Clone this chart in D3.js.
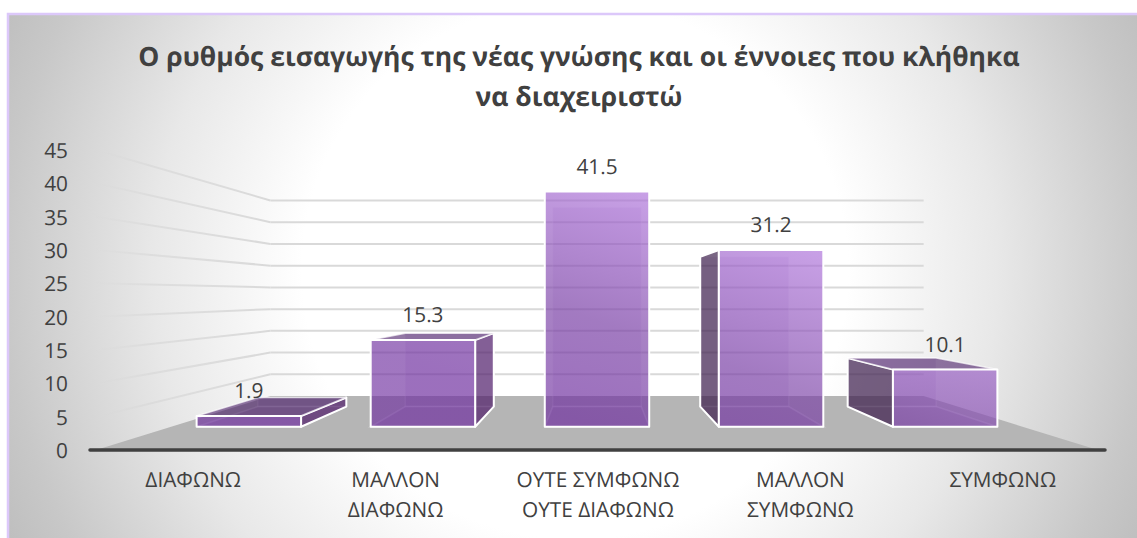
<!DOCTYPE html>
<html>
<head>
<meta charset="utf-8">
<script src="https://cdnjs.cloudflare.com/ajax/libs/d3/7.8.5/d3.min.js"></script>
<style>
  html, body { margin: 0; padding: 0; background: #fff; overflow: hidden; }
  text { font-family: "Open Sans", sans-serif; fill: #404040; text-rendering: geometricPrecision; }
</style>
</head>
<body>
<div id="chart"></div>
<script>
const titleLines = ['Ο ρυθμός εισαγωγής της νέας γνώσης και οι έννοιες που κλήθηκα', 'να διαχειριστώ'];
const categories = ['ΔΙΑΦΩΝΩ', 'ΜΑΛΛΟΝ ΔΙΑΦΩΝΩ', 'ΟΥΤΕ ΣΥΜΦΩΝΩ ΟΥΤΕ ΔΙΑΦΩΝΩ', 'ΜΑΛΛΟΝ ΣΥΜΦΩΝΩ', 'ΣΥΜΦΩΝΩ'];
const categoryLines = [['ΔΙΑΦΩΝΩ'], ['ΜΑΛΛΟΝ', 'ΔΙΑΦΩΝΩ'], ['ΟΥΤΕ ΣΥΜΦΩΝΩ', 'ΟΥΤΕ ΔΙΑΦΩΝΩ'], ['ΜΑΛΛΟΝ', 'ΣΥΜΦΩΝΩ'], ['ΣΥΜΦΩΝΩ']];
const values = [1.9, 15.3, 41.5, 31.2, 10.1];
const yTicks = [0, 5, 10, 15, 20, 25, 30, 35, 40, 45];

const width = 1137;
const height = 538;

// the chart is a perspective view, everything is scaled toward this point
const vanish = {x: 597, y: 295};
const depth = {front: 1, barFront: 0.85, barBack: 0.72, wall: 0.652};
const wallLeft = 96;
const wallRight = 1098;

const y = d3.scaleLinear().domain([0, 45]).range([450, 150]);
const x = d3.scaleBand().domain(categories).range([85, 1109]).paddingInner(0.4).paddingOuter(0.2);
const xLabels = d3.scaleBand().domain(categories).range([92, 1104]);

const project = (wx, v, k) => [vanish.x + k * (wx - vanish.x), vanish.y + k * (y(v) - vanish.y)];

const svg = d3.select('#chart').append('svg')
  .attr('width', width)
  .attr('height', height)
  .style('display', 'block');

const defs = svg.append('defs');

const bg = defs.append('radialGradient')
  .attr('id', 'bg')
  .attr('gradientUnits', 'userSpaceOnUse')
  .attr('cx', 0).attr('cy', 0).attr('r', 1)
  .attr('gradientTransform', 'translate(575 270) scale(650 640)');
bg.selectAll('stop')
  .data([[0, '#ffffff'], [0.42, '#ffffff'], [0.65, '#e8e8e8'], [0.88, '#c8c8c8'], [1, '#bbbbbb']])
  .join('stop')
  .attr('offset', d => d[0])
  .attr('stop-color', d => d[1]);

const fade = defs.append('linearGradient')
  .attr('id', 'fade')
  .attr('gradientUnits', 'userSpaceOnUse')
  .attr('x1', 85).attr('y1', 0).attr('x2', 270).attr('y2', 0);
fade.append('stop').attr('offset', 0).attr('stop-color', '#d9d9d9').attr('stop-opacity', 0);
fade.append('stop').attr('offset', 0.35).attr('stop-color', '#d6d6d6').attr('stop-opacity', 0.6);
fade.append('stop').attr('offset', 1).attr('stop-color', '#d9d9d9');

const face = defs.append('linearGradient')
  .attr('id', 'face')
  .attr('gradientUnits', 'userSpaceOnUse')
  .attr('x1', 600).attr('y1', 427).attr('x2', 680).attr('y2', 191);
face.selectAll('stop')
  .data([[0, '#7030a0'], [0.4, '#7a40a6'], [1, '#b073de']])
  .join('stop')
  .attr('offset', d => d[0])
  .attr('stop-color', d => d[1]);

svg.append('rect')
  .attr('x', 8).attr('y', 14)
  .attr('width', width - 8).attr('height', height - 14)
  .attr('fill', 'url(#bg)');
svg.append('path')
  .attr('d', `M8,${height}V14H${width}`)
  .attr('fill', 'none')
  .attr('stroke', '#dcc8fa')
  .attr('stroke-width', 2.5);

svg.append('g')
  .attr('text-anchor', 'middle')
  .attr('font-size', 26.5)
  .attr('font-weight', 700)
  .selectAll('text')
  .data(titleLines)
  .join('text')
  .attr('x', 579)
  .attr('y', (d, i) => 66 + i * 40)
  .text(d => d);

// floor
const floor = [project(wallLeft, 0, depth.front), project(wallRight, 0, depth.front),
  project(wallRight, 0, depth.wall), project(wallLeft, 0, depth.wall)];
svg.append('path')
  .attr('d', d3.line()(floor) + 'Z')
  .attr('fill', '#b5b5b5');

// gridlines
const grid = svg.append('g').attr('fill', 'none').attr('stroke-width', 2);
const gridTicks = yTicks.filter(d => d > 0);
grid.selectAll('.back')
  .data(gridTicks)
  .join('path')
  .attr('class', 'back')
  .attr('stroke', '#d9d9d9')
  .attr('d', d => d3.line()([project(wallLeft, d, depth.wall), project(wallRight, d, depth.wall)]));
grid.selectAll('.side')
  .data(gridTicks)
  .join('path')
  .attr('class', 'side')
  .attr('stroke', 'url(#fade)')
  .attr('d', d => d3.line()([project(wallLeft, d, depth.front), project(wallLeft, d, depth.wall)]));

// axis line
svg.append('path')
  .attr('d', d3.line()([[90, y(0)], [1105, y(0)]]))
  .attr('stroke', '#404040')
  .attr('stroke-width', 3.5)
  .attr('stroke-linecap', 'round');

// y axis
const yAxis = svg.append('g')
  .attr('transform', 'translate(68, 1)')
  .call(d3.axisLeft(y).tickValues(yTicks).tickSize(0).tickPadding(0));
yAxis.select('.domain').remove();
yAxis.selectAll('text')
  .attr('font-size', 20.8)
  .attr('font-family', '"Open Sans", sans-serif')
  .attr('fill', '#404040');

// x axis labels
const xAxis = svg.append('g')
  .attr('transform', `translate(0, ${y(0)})`)
  .call(d3.axisBottom(xLabels).tickSize(0).tickFormat(''));
xAxis.select('.domain').remove();
xAxis.selectAll('.tick text')
  .attr('font-size', 20.8)
  .attr('font-family', '"Open Sans", sans-serif')
  .attr('fill', '#404040')
  .attr('y', 0)
  .attr('dy', 0)
  .each(function (d, i) {
    d3.select(this).selectAll('tspan')
      .data(categoryLines[i])
      .join('tspan')
      .attr('x', 0)
      .attr('y', (l, j) => 37 + j * 30)
      .text(l => l);
  });

// one box for each value, faces painted from back to front
const bars = svg.append('g')
  .selectAll('g')
  .data(values.map((v, i) => ({name: categories[i], value: v})))
  .join('g');

const poly = (a, b, ka, va, kb, vb) => d3.line()([
  project(a, va, ka), project(b, va, ka), project(b, vb, kb), project(a, vb, kb)
]) + 'Z';

const backFaces = d => {
  const l = x(d.name);
  const r = l + x.bandwidth();
  const cx = l + x.bandwidth() / 2;
  const sideX = cx < vanish.x ? r : l;
  return {l, r, cx, sideX};
};

const kb = depth.barBack;
const kf = depth.barFront;

// the top of the box only shows while it is below eye level
const topVisible = d => y(d.value) > vanish.y;
// the middle box is seen straight on, its sides are only edges
const isCentered = d => Math.abs(backFaces(d).cx - vanish.x) < 1;

// back wall of box
bars.append('path')
  .attr('d', d => {
    const b = backFaces(d);
    return poly(b.l, b.r, kb, d.value, kb, 0);
  })
  .attr('fill', '#7030a0')
  .attr('fill-opacity', 0.1)
  .attr('stroke', '#ffffff')
  .attr('stroke-opacity', 0.22)
  .attr('stroke-width', 1.5);

// box bottom
bars.append('path')
  .attr('d', d => {
    const b = backFaces(d);
    return poly(b.l, b.r, kb, 0, kf, 0);
  })
  .attr('fill', '#7030a0')
  .attr('fill-opacity', 0.12)
  .attr('stroke', '#ffffff')
  .attr('stroke-opacity', 0.35)
  .attr('stroke-width', 1.5);

// side
bars.append('path')
  .attr('d', d => {
    const b = backFaces(d);
    return d3.line()([
      project(b.sideX, d.value, kf), project(b.sideX, d.value, kb),
      project(b.sideX, 0, kb), project(b.sideX, 0, kf)
    ]) + 'Z';
  })
  .attr('fill', d => backFaces(d).cx < vanish.x ? '#501e69' : '#3b1d49')
  .attr('fill-opacity', d => isCentered(d) ? 0 : 0.68)
  .attr('stroke', '#ffffff')
  .attr('stroke-width', d => isCentered(d) ? 0 : 2)
  .attr('stroke-linejoin', 'round');

// top
bars.filter(topVisible).append('path')
  .attr('d', d => {
    const b = backFaces(d);
    return poly(b.l, b.r, kf, d.value, kb, d.value);
  })
  .attr('fill', '#4a1d68')
  .attr('fill-opacity', 0.6)
  .attr('stroke', '#ffffff')
  .attr('stroke-opacity', 0.7)
  .attr('stroke-width', 1.5);

// front
bars.append('path')
  .attr('d', d => {
    const b = backFaces(d);
    return poly(b.l, b.r, kf, d.value, kf, 0);
  })
  .attr('fill', 'url(#face)')
  .attr('fill-opacity', 0.66)
  .attr('stroke', '#ffffff')
  .attr('stroke-width', 2)
  .attr('stroke-linejoin', 'round');

// data labels
bars.append('text')
  .attr('text-anchor', 'middle')
  .attr('font-size', 20.8)
  .attr('x', d => project(x(d.name) + x.bandwidth() / 2, d.value, kf)[0])
  .attr('y', d => project(x(d.name) + x.bandwidth() / 2, d.value, kf)[1] - 18)
  .text(d => d.value.toFixed(1));
</script>
</body>
</html>
